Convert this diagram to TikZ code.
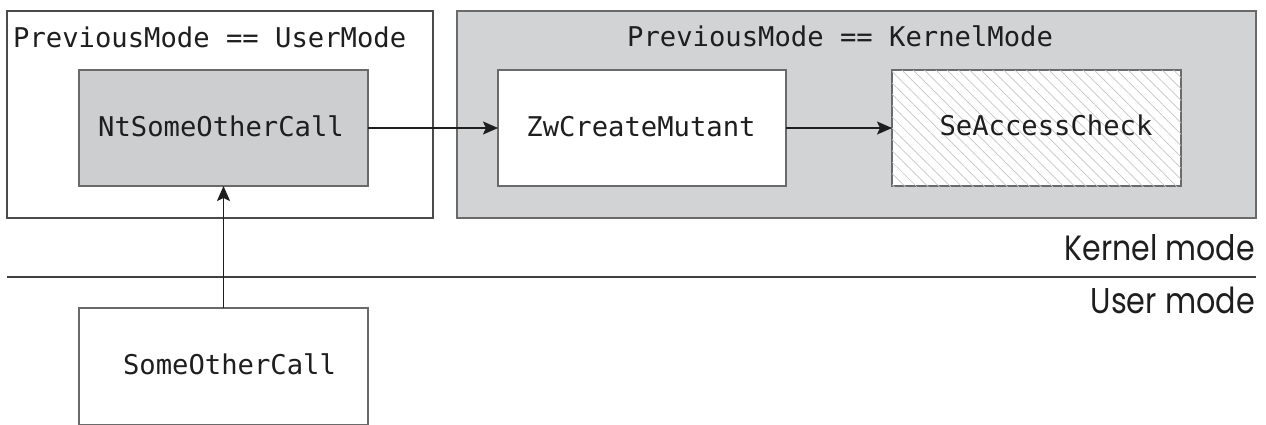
\documentclass[tikz,border=0pt]{standalone}
\usepackage{fontspec}
\setmonofont{DejaVu Sans Mono}
\newfontfamily\modefont{Poppins}
\usetikzlibrary{arrows.meta,patterns.meta,fit}
\definecolor{panel}{HTML}{D2D3D5}
\definecolor{callgray}{HTML}{CDCECF}
\definecolor{edge}{HTML}{6A6A6A}
\definecolor{ink}{HTML}{1E1E1E}
\definecolor{hatch}{HTML}{C6C6C6}
\begin{document}
\begin{tikzpicture}[x=1pt,y=-1pt,
  frame/.style={draw=#1, line width=1.4pt, inner sep=0pt, outer sep=0pt},
  userframe/.style={frame=ink!80, fill=white},
  kernelframe/.style={frame=edge, fill=panel},
  callbox/.style={frame=edge, fill=white},
  graybox/.style={frame=edge, fill=callgray},
  hatchbox/.style={frame=edge, fill=white,
    postaction={pattern={Lines[angle=-45,distance=8pt,line width=0.7pt]}, pattern color=hatch}},
  code/.style={font=\ttfamily\fontsize{27.2}{30}\selectfont, text=ink, inner sep=0pt},
  modelabel/.style={text=ink, inner sep=0pt, anchor=base east},
  arr/.style={draw=ink, line width=1.8pt, -{Stealth[length=15pt,width=13pt,inset=3pt]}},
  divider/.style={draw=ink!85, line width=2pt}
]
\useasboundingbox (0,0) rectangle (1266,424);
\fill[white] (0,0) rectangle (1266,424);

% regions
\node[userframe, fit={(7,11) (433,218)}] (userreg) {};
\node[kernelframe, fit={(457,11) (1256,218)}] (kernreg) {};

% boxes
\node[graybox, fit={(79,70) (368,186)}] (nt) {};
\node[callbox, fit={(498,70) (786,186)}] (zw) {};
\node[hatchbox, fit={(892,70) (1181,186)}] (se) {};
\node[callbox, fit={(79,308) (368,425)}] (some) {};

% texts
\node[code, anchor=base west] (usert) at (13,47) {PreviousMode == UserMode};
\node[code, anchor=base west] (kernt) at (627,46) {PreviousMode == KernelMode};
\node[code, anchor=base] (ntt) at (221,136) {NtSomeOtherCall};
\node[code, anchor=base] (zwt) at (641,136) {ZwCreateMutant};
\node[code, anchor=base] (set) at (1046,135) {SeAccessCheck};
\node[code, anchor=base] (somet) at (229.5,374) {SomeOtherCall};

% divider
\coordinate (dl) at (7,277);
\coordinate (dr) at (1256,277);
\draw[divider] (dl) -- (dr);
\node[modelabel] (km) at (1255,260) {\resizebox{190pt}{26pt}{\modefont Kernel mode}};
\node[modelabel] (um) at (1255,313) {\resizebox{164pt}{26.5pt}{\modefont User mode}};

% connectors
\draw[arr] (nt.east) -- (zw.west);
\draw[arr] (zw.east) -- (se.west);
\draw[arr] (some.north) -- (nt.south);
\end{tikzpicture}
\end{document}
